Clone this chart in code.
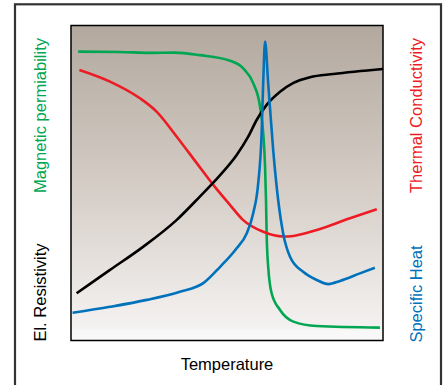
<!DOCTYPE html>
<html>
<head>
<meta charset="utf-8">
<script src="https://cdn.jsdelivr.net/npm/d3@7"></script>
<style>
  body { margin: 0; background: #fff; }
  svg text { font-family: "Liberation Sans", Arial, sans-serif; }
</style>
</head>
<body>
<div id="chart"></div>
<script>
// curves in arbitrary units, x = temperature (0..100), y = value (0..100)
var magnetic = [
  [2.3, 91.7], [15.7, 91.6], [25.3, 91.3], [33.3, 91.4], [41.3, 90.6],
  [51.0, 88.8], [55.2, 86.4], [58.4, 81.7], [60.6, 74.2], [61.6, 65.9],
  [62.2, 55.2], [62.5, 44.6], [62.7, 34.1], [63.2, 23.4], [64.3, 15.0],
  [67.0, 9.7], [71.3, 6.0], [78.8, 4.6], [99.0, 4.1]
];
var thermal = [
  [2.7, 85.9], [12.5, 82.2], [22.1, 76.9], [27.5, 72.6], [33.9, 64.7],
  [40.3, 56.3], [45.6, 49.4], [51.0, 43.0], [55.2, 38.2], [61.6, 34.5],
  [68.0, 33.0], [71.3, 33.2], [78.8, 35.1], [89.4, 38.8], [98.0, 41.7]
];
var resistivity = [
  [1.8, 15.0], [12.5, 22.4], [23.2, 29.8], [33.9, 38.3], [41.3, 45.7],
  [47.8, 52.5], [53.1, 58.9], [56.8, 64.7], [59.5, 70.0], [62.7, 74.8],
  [67.0, 79.0], [71.3, 81.8], [76.6, 83.6], [84.1, 84.6], [100, 86.2]
];
var specificHeat = [
  [0.5, 8.8], [12.5, 10.7], [24.3, 12.9], [34.9, 15.5], [42.4, 18.2],
  [47.8, 23.4], [53.1, 29.3], [56.3, 34.0], [58.4, 40.4], [60.0, 49.9],
  [61.1, 65.8], [61.6, 81.7], [62.2, 94.9], [63.2, 81.7], [64.8, 60.5],
  [66.4, 44.6], [68.0, 34.0], [70.2, 26.6], [74.4, 21.8], [78.8, 19.2],
  [82.5, 17.9], [86.2, 18.9], [92.6, 21.3], [97.4, 23.1]
];

var xLabel = "Temperature";
var leftLabels = ["Magnetic permiability", "El. Resistivity"];
var rightLabels = ["Thermal Conductivity", "Specific Heat"];

var width = 445;
var height = 385;
var margin = { top: 25.5, right: 62, bottom: 44.5, left: 71 };

var svg = d3
  .select("div#chart")
  .append("svg")
  .attr("width", width)
  .attr("height", height);

// outer frame (bottom edge runs off the picture)
svg
  .append("rect")
  .attr("x", 15)
  .attr("y", 4.3)
  .attr("width", 426)
  .attr("height", 500)
  .attr("fill", "#fff")
  .attr("stroke", "#333")
  .attr("stroke-width", 2.2);

var grad = svg
  .append("defs")
  .append("linearGradient")
  .attr("id", "bg")
  .attr("x1", 0)
  .attr("y1", 0)
  .attr("x2", 0)
  .attr("y2", 1);
grad.append("stop").attr("offset", "0%").attr("stop-color", "#b2a89e");
grad.append("stop").attr("offset", "50%").attr("stop-color", "#d4ccc5");
grad.append("stop").attr("offset", "96%").attr("stop-color", "#f4f2f1");
grad.append("stop").attr("offset", "97%").attr("stop-color", "#f8f8f8");
grad.append("stop").attr("offset", "100%").attr("stop-color", "#f8f8f8");

var x = d3
  .scaleLinear()
  .domain([0, 100])
  .range([margin.left, width - margin.right]);
var y = d3
  .scaleLinear()
  .domain([0, 100])
  .range([height - margin.bottom, margin.top]);

svg
  .append("rect")
  .attr("x", x(0))
  .attr("y", y(100))
  .attr("width", x(100) - x(0))
  .attr("height", y(0) - y(100))
  .attr("fill", "url(#bg)");

var line = d3
  .line()
  .x((d) => x(d[0]))
  .y((d) => y(d[1]))
  .curve(d3.curveMonotoneX);

var series = [
  { data: magnetic, color: "#00a651" },
  { data: thermal, color: "#ed1c24" },
  { data: resistivity, color: "#000000" },
  { data: specificHeat, color: "#0072bc" },
];

svg
  .append("g")
  .attr("class", "lines")
  .selectAll("path")
  .data(series)
  .join("path")
  .attr("fill", "none")
  .attr("stroke", (d) => d.color)
  .attr("stroke-width", 2.6)
  .attr("d", (d) => line(d.data));

// plot border on top
svg
  .append("rect")
  .attr("x", x(0))
  .attr("y", y(100))
  .attr("width", x(100) - x(0))
  .attr("height", y(0) - y(100))
  .attr("fill", "none")
  .attr("stroke", "#000")
  .attr("stroke-width", 1.5);

var fontSize = 16.5;

svg
  .append("text")
  .attr("x", (x(0) + x(100)) / 2)
  .attr("y", 370)
  .attr("text-anchor", "middle")
  .attr("font-size", fontSize)
  .attr("fill", "#000")
  .text(xLabel);

function sideLabel(text, cx, cy, color) {
  svg
    .append("text")
    .attr("transform", `translate(${cx},${cy}) rotate(-90)`)
    .attr("text-anchor", "middle")
    .attr("font-size", fontSize)
    .attr("fill", color)
    .text(text);
}

sideLabel(leftLabels[0], 46, 115.5, "#00a651");
sideLabel(leftLabels[1], 46, 292.5, "#000");
sideLabel(rightLabels[0], 422, 115.5, "#ed1c24");
sideLabel(rightLabels[1], 422, 294, "#0072bc");
</script>
</body>
</html>
